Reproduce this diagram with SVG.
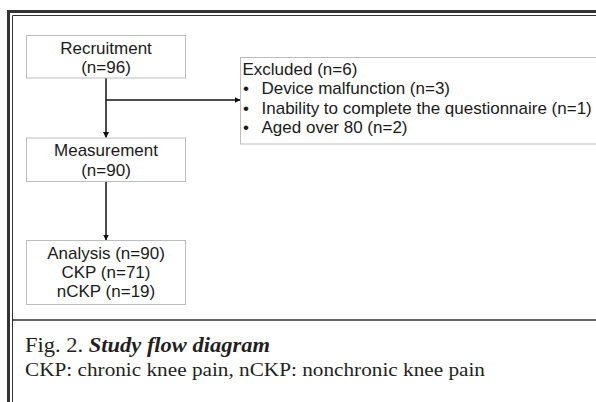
<svg xmlns="http://www.w3.org/2000/svg" width="596" height="402" viewBox="0 0 596 402">
<style>
.box{fill:#fff;stroke:#bdbdbd;stroke-width:1}
.t{font-family:"Liberation Sans",Arial,sans-serif;font-size:17px;fill:#1a1a1a}
.c{text-anchor:middle}
.cap{font-family:"Liberation Serif","Times New Roman",serif;fill:#231f20}
.ln{stroke:#111;stroke-width:1.5;fill:none}
</style>
<defs>
<marker id="ah" markerWidth="6" markerHeight="6" refX="5.5" refY="3" orient="auto" markerUnits="userSpaceOnUse">
<path d="M0,0 L6,3 L0,6 Z" fill="#111"/>
</marker>
</defs>
<rect width="596" height="402" fill="#fff"/>
<g id="frame">
<path d="M8.5,402 V11.5 H596" fill="none" stroke="#333" stroke-width="3"/>
<path d="M12.5,402 V15.5 H596" fill="none" stroke="#333" stroke-width="1"/>
<line x1="13" y1="320" x2="596" y2="320" stroke="#666" stroke-width="2"/>
</g>
<g id="connectors">
<line class="ln" x1="106" y1="78" x2="106" y2="137.5" marker-end="url(#ah)"/>
<line class="ln" x1="106" y1="100" x2="240" y2="100" marker-end="url(#ah)"/>
<line class="ln" x1="106" y1="181.5" x2="106" y2="240" marker-end="url(#ah)"/>
</g>
<g id="recruitment">
<rect class="box" x="26.5" y="35.5" width="159" height="42.5"/>
<text class="t c" x="106" y="53.5">Recruitment</text>
<text class="t c" x="106" y="72.5">(n=96)</text>
</g>
<g id="excluded">
<rect class="box" x="240.5" y="57.5" width="360" height="86.5"/>
<text class="t" x="242.5" y="75">Excluded (n=6)</text>
<text class="t" x="243" y="94.3">•</text>
<text class="t" x="261.5" y="94.3">Device malfunction (n=3)</text>
<text class="t" x="243" y="113.5">•</text>
<text class="t" x="261.5" y="113.5">Inability to complete the questionnaire (n=1)</text>
<text class="t" x="243" y="132.7">•</text>
<text class="t" x="261.5" y="132.7">Aged over 80 (n=2)</text>
</g>
<g id="measurement">
<rect class="box" x="26.5" y="138" width="159" height="43.5"/>
<text class="t c" x="106" y="156">Measurement</text>
<text class="t c" x="106" y="175.5">(n=90)</text>
</g>
<g id="analysis">
<rect class="box" x="26.5" y="240.5" width="159" height="64"/>
<text class="t c" x="106" y="259">Analysis (n=90)</text>
<text class="t c" x="106" y="278">CKP (n=71)</text>
<text class="t c" x="106" y="297">nCKP (n=19)</text>
</g>
<g id="caption">
<text class="cap" x="25" y="351.5" font-size="20" textLength="245" lengthAdjust="spacingAndGlyphs">Fig. 2. <tspan font-style="italic" font-weight="bold">Study flow diagram</tspan></text>
<text class="cap" x="25" y="375.5" font-size="19" textLength="460" lengthAdjust="spacingAndGlyphs">CKP: chronic knee pain, nCKP: nonchronic knee pain</text>
</g>
</svg>
